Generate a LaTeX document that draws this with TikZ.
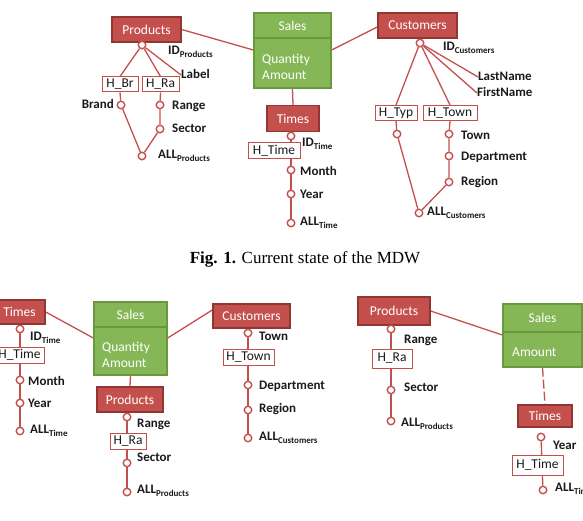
\documentclass[tikz,border=0pt]{standalone}
\usepackage{fontspec}
\setmainfont{Carlito}
\newfontfamily\capfont{Liberation Serif}
\usetikzlibrary{backgrounds}
\definecolor{rfill}{HTML}{C4504D}
\definecolor{rdark}{HTML}{923633}
\definecolor{rline}{HTML}{C4504D}
\definecolor{gfill}{HTML}{86B757}
\definecolor{gdark}{HTML}{68993D}
\definecolor{txt}{HTML}{1A1A1A}
\newcommand\sbs[1]{\raisebox{-3pt}{\fontsize{9}{10}\selectfont #1}}
\begin{document}
\begin{tikzpicture}[x=1pt,y=-1pt,
 redbox/.style={draw=rdark, fill=rfill, line width=1.4pt, text=white, inner sep=0pt, font=\fontsize{13.5}{15}\selectfont},
 greenbox/.style={draw=gdark, fill=gfill, line width=1.4pt, text=white, inner sep=0pt, font=\fontsize{13.5}{15}\selectfont},
 gtext/.style={anchor=west, text=white, align=left, inner sep=0pt, font=\fontsize{13.5}{16}\selectfont},
 hbox/.style={draw=rline, fill=white, line width=1pt, inner sep=0pt, text=txt, font=\fontsize{13.5}{15}\selectfont},
 dot/.style={circle, draw=rline, fill=white, line width=1.4pt, minimum size=7.5pt, inner sep=0pt},
 lbl/.style={anchor=west, inner sep=0pt, text=txt, text height=9pt, text depth=2pt, font=\fontsize{13}{15}\selectfont\bfseries},
 conn/.style={draw=rline, line width=1.3pt}]
\useasboundingbox (0,0) rectangle (583,521);

% ================= TOP =================
\node[redbox, minimum width=69pt, minimum height=25pt] (p1) at (146.5,29.5) {Products};
\node[greenbox, minimum width=77pt, minimum height=25pt] (s1h) at (292.5,25.5) {Sales};
\node[greenbox, minimum width=77pt, minimum height=50pt] (s1b) at (292.5,63) {};
\node[gtext] (s1t) at (262,67) {Quantity\\Amount};
\node[redbox, minimum width=52pt, minimum height=26pt] (t1) at (293,118.5) {Times};
\node[redbox, minimum width=79pt, minimum height=25pt] (c1) at (417.5,25.5) {Customers};

% products hierarchy
\node[dot] (p1c) at (142,45) {};
\node[hbox, minimum width=36pt, minimum height=15pt] (hbr) at (120,84.5) {H\_Br};
\node[hbox, minimum width=37pt, minimum height=15pt] (hra) at (160.5,84.5) {H\_Ra};
\node[lbl] (idp) at (168,51) {ID\sbs{Products}};
\node[lbl] (lab) at (181,75) {Label};
\node[dot] (brc) at (121,105) {};
\node[lbl, anchor=east] (brl) at (114,105) {Brand};
\node[dot] (rac) at (160,105) {};
\node[lbl] (ral) at (172,106) {Range};
\node[dot] (sec) at (160,129) {};
\node[lbl] (sel) at (172,129) {Sector};
\node[dot] (apc) at (142,156) {};
\node[lbl] (apl) at (158,155) {ALL\sbs{Products}};

% times hierarchy
\node[dot] (t1c) at (291,136) {};
\node[dot] (moc) at (291,170) {};
\node[dot] (yec) at (291,194) {};
\node[dot] (atc) at (291,223) {};
\node[hbox, minimum width=52pt, minimum height=16pt] (ht1) at (274,151) {H\_Time};
\node[lbl] (idt) at (302,143) {ID\sbs{Time}};
\node[lbl] (mol) at (300,172) {Month};
\node[lbl] (yel) at (300,195) {Year};
\node[lbl] (atl) at (300,222) {ALL\sbs{Time}};

% customers hierarchy
\node[dot] (c1c) at (420,43) {};
\node[lbl] (idc) at (443,47) {ID\sbs{Customers}};
\node[lbl] (lnl) at (478,77) {LastName};
\node[lbl] (fnl) at (477,93) {FirstName};
\node[hbox, minimum width=42pt, minimum height=15pt] (hty) at (396,113) {H\_Typ};
\node[hbox, minimum width=54pt, minimum height=15pt] (hto) at (450,113) {H\_Town};
\node[dot] (tyc) at (397,134) {};
\node[dot] (toc) at (449,134) {};
\node[lbl] (tol) at (461,136) {Town};
\node[dot] (dec) at (449,156) {};
\node[lbl] (del) at (461,157) {Department};
\node[dot] (rec) at (449,182) {};
\node[lbl] (rel) at (461,182) {Region};
\node[dot] (acc) at (419,213) {};
\node[lbl] (acl) at (427,212) {ALL\sbs{Customers}};

% caption
\node[font=\capfont\fontsize{17}{20}\selectfont, inner sep=0pt] (cap) at (305,259) {\textbf{Fig. 1.} Current state of the MDW};

% ================= BOTTOM LEFT =================
\node[redbox, minimum width=51pt, minimum height=24pt] (t2) at (19.5,312) {Times};
\node[dot] (t2c) at (20,329) {};
\node[lbl] (idt2) at (30,337) {ID\sbs{Time}};
\node[dot] (mo2) at (20,380) {};
\node[dot] (ye2) at (20,403) {};
\node[dot] (at2) at (20,431) {};
\node[hbox, minimum width=49pt, minimum height=16pt] (ht2) at (19.5,355) {H\_Time};
\node[lbl] (mol2) at (28,382) {Month};
\node[lbl] (yel2) at (28,404) {Year};
\node[lbl] (atl2) at (30,430) {ALL\sbs{Time}};

\node[greenbox, minimum width=73pt, minimum height=25pt] (s2h) at (130.5,314.5) {Sales};
\node[greenbox, minimum width=73pt, minimum height=48pt] (s2b) at (130.5,351) {};
\node[gtext] (s2t) at (102,355) {Quantity\\Amount};

\node[redbox, minimum width=66pt, minimum height=25pt] (p2) at (130,399.5) {Products};
\node[dot] (p2c) at (127,417) {};
\node[lbl] (ral2) at (137,424) {Range};
\node[dot] (se2) at (127,463) {};
\node[dot] (ap2) at (127,492) {};
\node[hbox, minimum width=36pt, minimum height=16pt] (hra2) at (128,441) {H\_Ra};
\node[lbl] (sel2) at (137,458) {Sector};
\node[lbl] (apl2) at (137,490) {ALL\sbs{Products}};

\node[redbox, minimum width=77pt, minimum height=24pt] (c2) at (251.5,316) {Customers};
\node[dot] (c2c) at (248,333) {};
\node[lbl] (tol2) at (259,337) {Town};
\node[dot] (de2) at (248,385) {};
\node[dot] (re2) at (248,410) {};
\node[dot] (ac2) at (248,438) {};
\node[hbox, minimum width=51pt, minimum height=16pt] (hto2) at (248.5,357) {H\_Town};
\node[lbl] (del2) at (259,386) {Department};
\node[lbl] (rel2) at (259,409) {Region};
\node[lbl] (acl2) at (259,437) {ALL\sbs{Customers}};

% ================= BOTTOM RIGHT =================
\node[redbox, minimum width=72pt, minimum height=28pt] (p3) at (394,311) {Products};
\node[dot] (p3c) at (391,329) {};
\node[lbl] (ral3) at (404,340) {Range};
\node[dot] (se3) at (391,390) {};
\node[dot] (ap3) at (391,421) {};
\node[hbox, minimum width=40pt, minimum height=19pt] (hra3) at (392,358.5) {H\_Ra};
\node[lbl] (sel3) at (404,388) {Sector};
\node[lbl] (apl3) at (401,423) {ALL\sbs{Products}};

\node[greenbox, minimum width=79pt, minimum height=28pt] (s3h) at (542.5,318) {Sales};
\node[greenbox, minimum width=79pt, minimum height=35pt] (s3b) at (542.5,349.5) {};
\node[gtext] (s3t) at (512,352) {Amount};

\node[redbox, minimum width=54pt, minimum height=22pt] (t3) at (545,416) {Times};
\node[dot] (t3c) at (541,437) {};
\node[lbl] (yel3) at (553,446) {Year};
\node[dot] (at3) at (543,490) {};
\node[hbox, minimum width=51pt, minimum height=20pt] (ht3) at (537.5,465) {H\_Time};
\node[lbl] (atl3) at (555,488) {ALL\sbs{Time}};

% ================= CONNECTORS =================
\begin{pgfonlayer}{background}
% top
\draw[conn] (p1.east) -- ([yshift=13pt]s1b.west);
\draw[conn] ([yshift=13pt]s1b.east) -- ([yshift=-1.5pt]c1.west);
\draw[conn] (s1b.south) -- (t1.north);
\draw[conn] (p1c) -- (hbr.north);
\draw[conn] (p1c) -- (hra.north);
\draw[conn] (p1c) -- (lab.west);
\draw[conn] (hbr.south) -- (brc) -- (apc);
\draw[conn] (hra.south) -- (rac) -- (sec) -- (apc);
\draw[conn] (t1c) -- (moc) -- (yec) -- (atc);
\draw[conn] (c1c) -- (hty.north);
\draw[conn] (c1c) -- (hto.north);
\draw[conn] (c1c) -- (lnl.west);
\draw[conn] (c1c) -- (fnl.west);
\draw[conn] (hty.south) -- (tyc) -- (acc);
\draw[conn] (hto.south) -- (toc) -- (dec) -- (rec) -- (acc);
% bottom left
\draw[conn] (t2.east) -- ([yshift=13pt]s2b.west);
\draw[conn] ([yshift=13pt]s2b.east) -- ([yshift=6pt]c2.west);
\draw[conn] (s2b.south) -- (p2.north);
\draw[conn] (t2c) -- (mo2) -- (ye2) -- (at2);
\draw[conn] (p2c) -- (se2) -- (ap2);
\draw[conn] (c2c) -- (de2) -- (re2) -- (ac2);
% bottom right
\draw[conn] (p3.east) -- ([yshift=14.5pt]s3b.west);
\draw[conn, dash pattern=on 9pt off 3pt] (s3b.south) -- (t3.north);
\draw[conn] (p3c) -- (se3) -- (ap3);
\draw[conn] (t3c) -- (at3);
\end{pgfonlayer}
\end{tikzpicture}
\end{document}
